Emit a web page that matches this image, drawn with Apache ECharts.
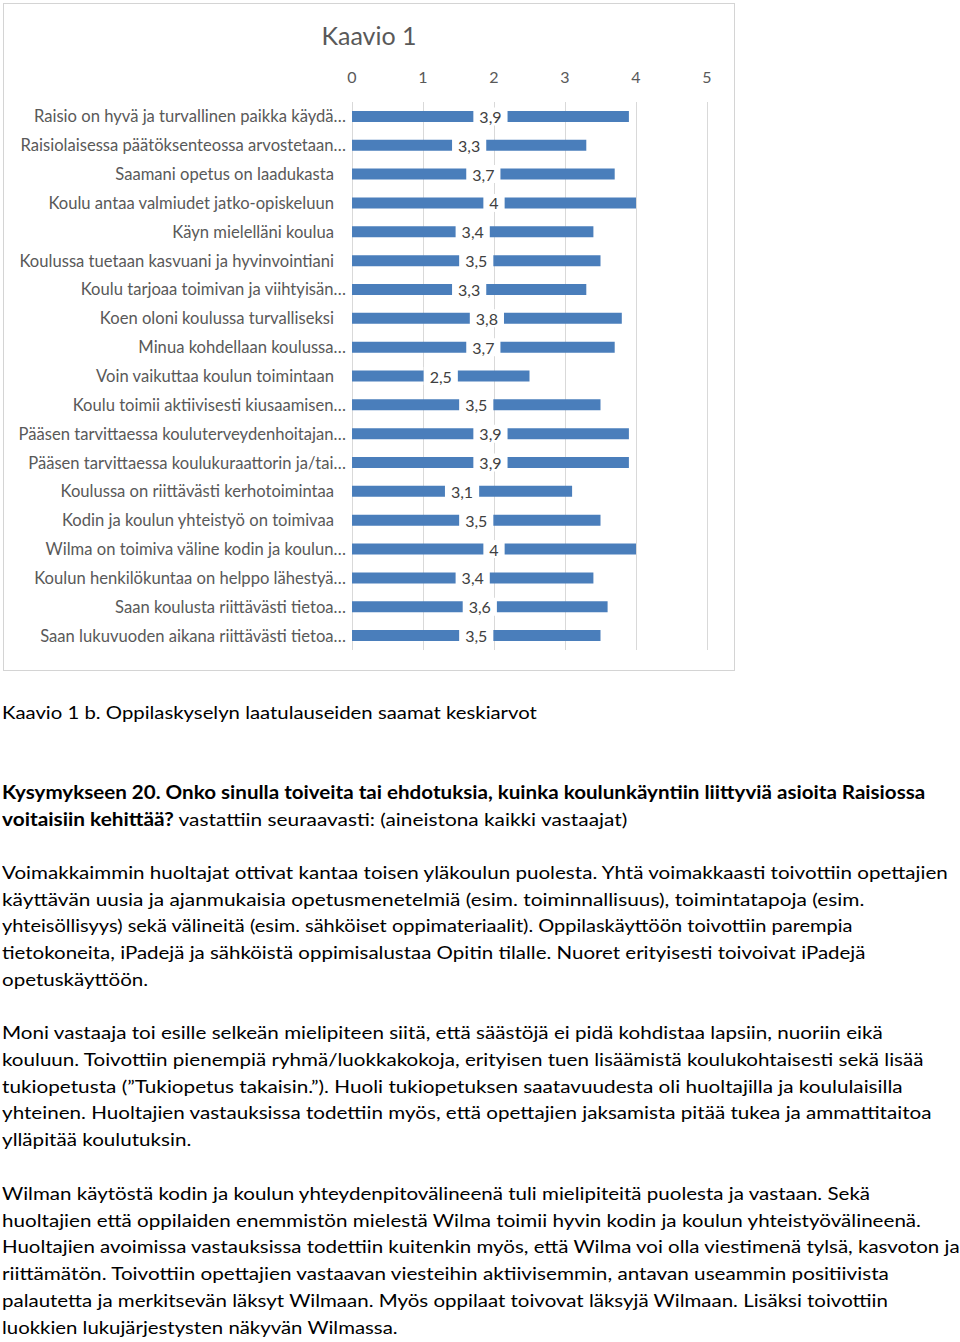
<!DOCTYPE html>
<html>
<head>
<meta charset="utf-8">
<script src="https://cdn.jsdelivr.net/npm/echarts@6/dist/echarts.min.js"></script>
<style>
  html, body { margin: 0; padding: 0; background: #fff; width: 960px; height: 1342px; overflow: hidden; }
  #frame { position: absolute; left: 3px; top: 3px; width: 732px; height: 668px; box-sizing: border-box; border: 1px solid #d4d4d4; }
  #chart { position: absolute; left: 0; top: 0; width: 738px; height: 680px; }
  .ln { position: absolute; left: 2px; font-family: Lato, "Noto Sans", sans-serif; font-size: 18px; line-height: 27px; color: #000; white-space: nowrap; transform-origin: 0 0; }
  .ln b { font-weight: bold; }
</style>
</head>
<body>
<div id="frame"></div>
<div id="chart"></div>

<div class="ln" data-w="535" style="top:699px">Kaavio 1 b. Oppilaskyselyn laatulauseiden saamat keskiarvot</div>

<div class="ln" data-w="923" style="top:779px"><b>Kysymykseen 20. Onko sinulla toiveita tai ehdotuksia, kuinka koulunkäyntiin liittyviä asioita Raisiossa</b></div>
<div class="ln" data-w="625" style="top:806px"><b>voitaisiin kehittää?</b> vastattiin seuraavasti: (aineistona kaikki vastaajat)</div>

<div class="ln" data-w="946" style="top:859px">Voimakkaimmin huoltajat ottivat kantaa toisen yläkoulun puolesta. Yhtä voimakkaasti toivottiin opettajien</div>
<div class="ln" data-w="862" style="top:886px">käyttävän uusia ja ajanmukaisia opetusmenetelmiä (esim. toiminnallisuus), toimintatapoja (esim.</div>
<div class="ln" data-w="850" style="top:912px">yhteisöllisyys) sekä välineitä (esim. sähköiset oppimateriaalit). Oppilaskäyttöön toivottiin parempia</div>
<div class="ln" data-w="864" style="top:939px">tietokoneita, iPadejä ja sähköistä oppimisalustaa Opitin tilalle. Nuoret erityisesti toivoivat iPadejä</div>
<div class="ln" data-w="146" style="top:966px">opetuskäyttöön.</div>

<div class="ln" data-w="881" style="top:1019px">Moni vastaaja toi esille selkeän mielipiteen siitä, että säästöjä ei pidä kohdistaa lapsiin, nuoriin eikä</div>
<div class="ln" data-w="922" style="top:1046px">kouluun. Toivottiin pienempiä ryhmä/luokkakokoja, erityisen tuen lisäämistä koulukohtaisesti sekä lisää</div>
<div class="ln" data-w="901" style="top:1073px">tukiopetusta (”Tukiopetus takaisin.”). Huoli tukiopetuksen saatavuudesta oli huoltajilla ja koululaisilla</div>
<div class="ln" data-w="930" style="top:1099px">yhteinen. Huoltajien vastauksissa todettiin myös, että opettajien jaksamista pitää tukea ja ammattitaitoa</div>
<div class="ln" data-w="189" style="top:1126px">ylläpitää koulutuksin.</div>

<div class="ln" data-w="868" style="top:1180px">Wilman käytöstä kodin ja koulun yhteydenpitovälineenä tuli mielipiteitä puolesta ja vastaan. Sekä</div>
<div class="ln" data-w="919" style="top:1207px">huoltajien että oppilaiden enemmistön mielestä Wilma toimii hyvin kodin ja koulun yhteistyövälineenä.</div>
<div class="ln" data-w="958" style="top:1233px">Huoltajien avoimissa vastauksissa todettiin kuitenkin myös, että Wilma voi olla viestimenä tylsä, kasvoton ja</div>
<div class="ln" data-w="887" style="top:1260px">riittämätön. Toivottiin opettajien vastaavan viesteihin aktiivisemmin, antavan useammin positiivista</div>
<div class="ln" data-w="886" style="top:1287px">palautetta ja merkitsevän läksyt Wilmaan. Myös oppilaat toivovat läksyjä Wilmaan. Lisäksi toivottiin</div>
<div class="ln" data-w="396" style="top:1314px">luokkien lukujärjestysten näkyvän Wilmassa.</div>

<script>
// ---- chart data ----
const chartTitle = 'Kaavio 1';
const categories = [
  'Raisio on hyvä ja turvallinen paikka käydä…',
  'Raisiolaisessa päätöksenteossa arvostetaan…',
  'Saamani opetus on laadukasta',
  'Koulu antaa valmiudet jatko-opiskeluun',
  'Käyn mielelläni koulua',
  'Koulussa tuetaan kasvuani ja hyvinvointiani',
  'Koulu tarjoaa toimivan ja viihtyisän…',
  'Koen oloni koulussa turvalliseksi',
  'Minua kohdellaan koulussa…',
  'Voin vaikuttaa koulun toimintaan',
  'Koulu toimii aktiivisesti kiusaamisen…',
  'Pääsen tarvittaessa kouluterveydenhoitajan…',
  'Pääsen tarvittaessa koulukuraattorin ja/tai…',
  'Koulussa on riittävästi kerhotoimintaa',
  'Kodin ja koulun yhteistyö on toimivaa',
  'Wilma on toimiva väline kodin ja koulun…',
  'Koulun henkilökuntaa on helppo lähestyä…',
  'Saan koulusta riittävästi tietoa…',
  'Saan lukuvuoden aikana riittävästi tietoa…'
];
const values = [3.9, 3.3, 3.7, 4, 3.4, 3.5, 3.3, 3.8, 3.7, 2.5, 3.5, 3.9, 3.9, 3.1, 3.5, 4, 3.4, 3.6, 3.5];
const axisMin = 0, axisMax = 5, axisInterval = 1;

// ---- fit body text lines ----
document.querySelectorAll('.ln').forEach(function (el) {
  const w = el.scrollWidth;
  const target = parseFloat(el.getAttribute('data-w'));
  if (w > 0 && target) el.style.transform = 'scaleX(' + (target / w) + ')';
});

// ---- chart ----
const FONT = 'Lato, "Noto Sans", sans-serif';
const chart = echarts.init(document.getElementById('chart'), null, { renderer: 'svg' });
chart.setOption({
  animation: false,
  backgroundColor: 'transparent',
  title: {
    text: chartTitle,
    left: 'center',
    top: 17,
    textStyle: { fontFamily: FONT, fontSize: 25, fontWeight: 'normal', color: '#595959' }
  },
  grid: { left: 352, right: 31, top: 102, bottom: 30, containLabel: false },
  xAxis: {
    type: 'value',
    position: 'top',
    min: axisMin, max: axisMax, interval: axisInterval,
    axisLine: { show: false },
    axisTick: { show: false },
    axisLabel: { margin: 18, color: '#595959', fontFamily: FONT, fontSize: 16 },
    splitLine: { show: true, lineStyle: { color: '#d9d9d9', width: 1 } }
  },
  yAxis: {
    type: 'category',
    inverse: true,
    data: categories,
    axisLine: { show: false },
    axisTick: { show: false },
    axisLabel: {
      margin: 6,
      color: '#595959',
      fontFamily: FONT,
      fontSize: 16.6,
      formatter: function (v) { return v.endsWith('…') ? v : '{p|' + v + '}'; },
      rich: { p: { padding: [0, 12, 0, 0], color: '#595959', fontFamily: FONT, fontSize: 16.6 } }
    }
  },
  series: [{
    type: 'bar',
    data: values,
    barWidth: 11,
    itemStyle: { color: '#4a7ebb' },
    label: {
      show: true,
      position: 'inside',
      color: '#404040',
      fontFamily: FONT,
      fontSize: 16,
      backgroundColor: '#ffffff',
      padding: [1, 6, 1, 6],
      formatter: function (p) { return String(p.value).replace('.', ','); }
    }
  }]
});
</script>
</body>
</html>
